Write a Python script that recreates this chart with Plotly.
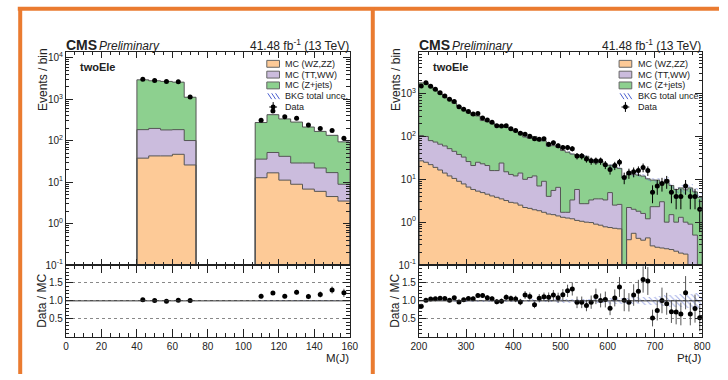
import math
import plotly.graph_objects as go

W, H = 728, 380

# ---------------- data: M(J) panel (24 bins, 0-160) ----------------
mj_range = [0.0, 160.0]
mj_nbins = 24
mj_wzzz = [0, 0, 0, 0, 0, 0, 38, 43, 43, 47, 26, 0, 0, 0, 0, 0,
           12.8, 16.8, 11.2, 8.9, 6.8, 6.0, 4.5, 3.5]
mj_ttww = [0, 0, 0, 0, 0, 0, 147, 155, 139, 138, 75, 0, 0, 0, 0, 0,
           23.2, 35.2, 30.8, 20.1, 22.2, 16, 12.5, 5.4]
mj_zjets = [0, 0, 0, 0, 0, 0, 2765, 2602, 2518, 2405, 1019, 0, 0, 0, 0, 0,
            239, 373, 294, 253, 185, 146, 118, 85]
mj_data = [0, 0, 0, 0, 0, 0, 3040, 2830, 2670, 2640, 1130, 0, 0, 0, 0, 0,
           311, 519, 380, 350, 240, 198, 176, 115]
mj_unc = [0, 0, 0, 0, 0, 0, 0.005, 0.005, 0.005, 0.005, 0.006, 0, 0, 0, 0, 0,
          0.012, 0.01, 0.012, 0.013, 0.014, 0.015, 0.016, 0.018]

# ---------------- data: Pt(J) panel (60 bins, 200-800) ----------------
pt_range = [200.0, 800.0]
pt_nbins = 60
pt_wzzz = [27, 25, 22, 19, 16.5, 14, 12, 10.5, 9, 7.8,
           6.6, 5.8, 5.3, 4.9, 4.5, 4.1, 3.8, 3.5, 3.2, 2.9,
           2.8, 2.5, 2.2, 2.1, 1.95, 1.85, 1.7, 1.55, 1.5, 1.4,
           1.3, 1.25, 1.2, 1.1, 1.05, 1.0, 0.98, 0.9, 0.85, 0.78,
           0.75, 0.72, 0.7, 0, 0.39, 0.55, 0.42, 0.38, 0.43, 0.28,
           0.26, 0.25, 0.24, 0.23, 0.21, 0.19, 0.18, 0, 0, 0]
pt_ttww = [78, 75, 58, 55, 49.5, 46, 40, 34.5, 29, 25.2,
           19.4, 15.2, 19.7, 18.1, 16.5, 11.9, 12.2, 20.5, 11.8, 10.1,
           9.2, 11.5, 7.8, 8.9, 10.05, 5.15, 7.3, 2.45, 4.0, 5.1,
           0.4, 0.45, 2.1, 4.7, 1.65, 1.7, 2.32, 2.6, 2.65, 2.52,
           4.15, 1.78, 1.9, 0, 1.81, 1.45, 1.38, 1.22, 0.77, 2.02,
           2.04, 2.75, 0.76, 1.27, 0.79, 1.11, 0.82, 0.9, 0.5, 0]
pt_zjets = [1675, 1660, 1340, 1126, 914, 760, 668, 555, 472, 387,
            334, 294, 275, 212, 201, 187, 166, 154, 147, 130,
            118, 109, 87, 79, 88, 73, 70, 56, 55.5, 49.5,
            45.3, 41.3, 35.7, 30.7, 33.8, 31.8, 24.7, 20.5, 23.2, 17.9,
            16.5, 16.9, 15.4, 10.8, 12.4, 10.9, 10.8, 10.3, 9.1, 7.3,
            7.3, 4.9, 8.8, 5.7, 4.8, 5.0, 4.7, 5.4, 4.6, 3.8]
pt_data = [1513, 1795, 1491, 1272, 1049, 877, 734, 654, 495, 433,
           385, 334, 345, 270, 242, 215, 178, 176, 178, 152,
           137, 119, 113, 101, 89, 86, 88, 66, 71, 61,
           55, 55, 52, 35, 35, 30, 27, 27, 27, 22,
           17, 21, 25, 11, 14, 15, 16, 19, 16, 5,
           7, 8, 9, 5, 4, 4, 7, 4, 4, 2]
pt_unc = [0.015, 0.015, 0.015, 0.015, 0.018, 0.018, 0.02, 0.02, 0.02, 0.022,
          0.022, 0.025, 0.025, 0.025, 0.028, 0.028, 0.03, 0.03, 0.03, 0.032,
          0.032, 0.035, 0.035, 0.038, 0.04, 0.04, 0.042, 0.045, 0.045, 0.048,
          0.05, 0.05, 0.055, 0.055, 0.06, 0.06, 0.065, 0.065, 0.07, 0.07,
          0.075, 0.08, 0.08, 0.09, 0.09, 0.1, 0.1, 0.11, 0.12, 0.12,
          0.13, 0.14, 0.15, 0.16, 0.17, 0.18, 0.19, 0.2, 0.22, 0.24]

legend_labels = ["MC (WZ,ZZ)", "MC (TT,WW)", "MC (Z+jets)", "BKG total unce.", "Data"]
log_tickvals = [0.1, 1, 10, 100, 1000, 10000]
log_ticktext = ["10<sup>-1</sup>", "10<sup>0</sup>", "10<sup>1</sup>", "10<sup>2</sup>",
                "10<sup>3</sup>", "10<sup>4</sup>"]
ratio_tickvals = [0.5, 1.0, 1.5]
ratio_ticktext = ["0.5", "1.0", "1.5"]

# ---------------- style ----------------
ORANGE = "#FDCA97"
PURPLE = "#CBBCDD"
GREEN = "#8DD08F"
OUTLINE = "#555555"
BLUE = "#4A5FD0"
TXT = "#222222"
FONT = "Liberation Sans"
FRAME = "#EA7B30"


def px(x):
    return x / W


def py(y):
    return 1 - y / H


fig = go.Figure()


def add_panel(rng, nb, wz, tt, zj, data, unc, ax):
    xm, ym, xr, yr = ax
    bw = (rng[1] - rng[0]) / nb
    edges = [rng[0] + i * bw for i in range(nb + 1)]
    centers = [e + bw / 2 for e in edges[:-1]]
    widths = [bw] * nb
    lvl1 = list(wz)
    lvl2 = [a + b for a, b in zip(wz, tt)]
    tot = [a + b for a, b in zip(lvl2, zj)]

    fig.add_trace(go.Bar(x=centers, y=wz, width=widths, marker=dict(color=ORANGE, line=dict(width=0)),
                         xaxis=xm, yaxis=ym))
    fig.add_trace(go.Bar(x=centers, y=tt, base=lvl1, width=widths,
                         marker=dict(color=PURPLE, line=dict(width=0)), xaxis=xm, yaxis=ym))
    fig.add_trace(go.Bar(x=centers, y=zj, base=lvl2, width=widths,
                         marker=dict(color=GREEN, line=dict(width=0)), xaxis=xm, yaxis=ym))

    tiny = 1e-5
    for lv in (lvl1, lvl2, tot):
        vals = [v if v > 0 else tiny for v in lv]
        xs = [edges[0]] + edges[:-1] + [edges[-1], edges[-1]]
        ys = [tiny] + vals + [vals[-1], tiny]
        fig.add_trace(go.Scatter(x=xs, y=ys, mode="lines", line=dict(color=OUTLINE, width=1, shape="hv",
                                 simplify=False), xaxis=xm, yaxis=ym))

    # uncertainty band on the stack
    bc, bb, bh = [], [], []
    for c, t, u in zip(centers, tot, unc):
        if t > 0 and u > 0:
            bc.append(c); bb.append(t * (1 - u)); bh.append(2 * t * u)
    fig.add_trace(go.Bar(x=bc, y=bh, base=bb, width=[bw] * len(bc),
                         marker=dict(color="rgba(0,0,0,0)", line=dict(width=0),
                                     pattern=dict(shape="\\", fgcolor=BLUE, bgcolor="rgba(0,0,0,0)",
                                                  size=4, solidity=0.25, fillmode="overlay")),
                         xaxis=xm, yaxis=ym))

    dx, dy, de = [], [], []
    rx, ry, re_ = [], [], []
    for c, d, t in zip(centers, data, tot):
        if d > 0:
            dx.append(c); dy.append(d); de.append(math.sqrt(d))
            if t > 0:
                rx.append(c); ry.append(d / t); re_.append(math.sqrt(d) / t)
    fig.add_trace(go.Scatter(x=dx, y=dy, mode="markers",
                             marker=dict(color="black", size=5),
                             error_y=dict(type="data", array=de, color="black", thickness=1, width=0),
                             xaxis=xm, yaxis=ym))

    # ratio band
    rc, rb, rh = [], [], []
    for c, t, u in zip(centers, tot, unc):
        if t > 0 and u > 0:
            rc.append(c); rb.append(1 - u); rh.append(2 * u)
    fig.add_trace(go.Bar(x=rc, y=rh, base=rb, width=[bw] * len(rc),
                         marker=dict(color="rgba(0,0,0,0)", line=dict(width=0),
                                     pattern=dict(shape="\\", fgcolor=BLUE, bgcolor="rgba(0,0,0,0)",
                                                  size=4, solidity=0.25, fillmode="overlay")),
                         xaxis=xr, yaxis=yr))
    fig.add_trace(go.Scatter(x=rx, y=ry, mode="markers",
                             marker=dict(color="black", size=5),
                             error_y=dict(type="data", array=re_, color="#555", thickness=1, width=0),
                             xaxis=xr, yaxis=yr))


add_panel(mj_range, mj_nbins, mj_wzzz, mj_ttww, mj_zjets, mj_data, mj_unc, ("x", "y", "x2", "y2"))
add_panel(pt_range, pt_nbins, pt_wzzz, pt_ttww, pt_zjets, pt_data, pt_unc, ("x3", "y3", "x4", "y4"))

L_dom = [59.3 / W, 350 / W]
R_dom = [420.7 / W, 710.7 / W]
main_dom = [py(269), py(52)]
ratio_dom = [py(342), py(269)]

base_axis = dict(showline=True, linecolor=TXT, linewidth=1, mirror="ticks", ticks="inside",
                 tickcolor=TXT, showgrid=False, zeroline=False,
                 tickfont=dict(family=FONT, size=10, color=TXT))


def xax(dom, rng, dtick, mdtick, labels, anchor, tl):
    d = dict(base_axis)
    d.update(domain=dom, range=rng, dtick=dtick, tick0=rng[0], ticklen=tl, showticklabels=labels,
             anchor=anchor,
             minor=dict(ticks="inside", ticklen=tl / 2, dtick=mdtick, tickcolor=TXT))
    return d


def ylog(dom, rng, anchor):
    d = dict(base_axis)
    d.update(domain=dom, type="log", range=rng, tickvals=log_tickvals, ticktext=log_ticktext,
             ticklen=7, anchor=anchor,
             minor=dict(ticks="inside", ticklen=3.5, dtick="D1", tickcolor=TXT))
    return d


def yrat(dom, anchor):
    d = dict(base_axis)
    d.update(domain=dom, range=[0, 2.0], tickvals=ratio_tickvals, ticktext=ratio_ticktext,
             ticklen=7, anchor=anchor, showgrid=True, gridcolor="#888", griddash="dot", gridwidth=1,
             minor=dict(ticks="inside", ticklen=3.5, dtick=0.1, tickcolor=TXT))
    return d


fig.update_layout(
    width=W, height=H, margin=dict(l=0, r=0, t=0, b=0),
    paper_bgcolor="white", plot_bgcolor="white",
    showlegend=False, barmode="overlay", bargap=0, hovermode=False,
    xaxis=xax(L_dom, mj_range, 20, 5, False, "y", 6),
    yaxis=ylog(main_dom, [-1, 4.14], "x"),
    xaxis2=xax(L_dom, mj_range, 20, 5, True, "y2", 8),
    yaxis2=yrat(ratio_dom, "x2"),
    xaxis3=xax(R_dom, pt_range, 100, 20, False, "y3", 6),
    yaxis3=ylog(main_dom, [-1, 3.97], "x3"),
    xaxis4=xax(R_dom, pt_range, 100, 20, True, "y4", 8),
    yaxis4=yrat(ratio_dom, "x4"),
)

shapes = []
anns = []

# orange frame lines
for (x0, y0, x1, y1) in [(10, 8, 728, 8), (12.5, 6, 12.5, 380), (373.5, 6, 373.5, 380)]:
    shapes.append(dict(type="line", xref="paper", yref="paper", x0=px(x0), y0=py(y0), x1=px(x1), y1=py(y1),
                       line=dict(color=FRAME, width=4)))

# reference line at ratio 1
for xr, yr in (("x2", "y2"), ("x4", "y4")):
    shapes.append(dict(type="line", xref=xr + " domain", yref=yr, x0=0, x1=1, y0=1, y1=1,
                       line=dict(color="#333", width=1)))


def text(x, y, s, size, anchor="left", angle=0, yanchor="middle"):
    anns.append(dict(x=px(x), y=py(y), xref="paper", yref="paper", text=s, showarrow=False,
                     xanchor=anchor, yanchor=yanchor, textangle=angle, borderpad=0,
                     font=dict(family=FONT, size=size, color=TXT)))


for L, R, xt in ((59.3, 350, "M(J)"), (420.7, 710.7, "Pt(J)")):
    text(L - 1, 45, "<b>CMS</b>", 14)
    text(L + 33, 46, "<i>Preliminary</i>", 12)
    text(R, 45, "41.48 fb<sup>-1</sup> (13 TeV)", 12, anchor="right")
    text(L + 13, 67, "<b>twoEle</b>", 11)
    text(L - 24, 80, "Events / bin", 12, anchor="center", angle=-90)
    text(L - 24, 305, "Data / MC", 12, anchor="center", angle=-90)
    text(R, 364, xt, 11.5, anchor="right")

    # legend
    bx0, bx1 = R - 85, R - 72
    rows = [64, 75, 86, 97, 108]
    for yy, col in zip(rows[:3], (ORANGE, PURPLE, GREEN)):
        shapes.append(dict(type="rect", xref="paper", yref="paper", x0=px(bx0), x1=px(bx1),
                           y0=py(yy + 3.5), y1=py(yy - 3.5), fillcolor=col,
                           line=dict(color="#666", width=1)))
    for k in range(3):
        xx = bx0 + 1 + k * 4
        shapes.append(dict(type="line", xref="paper", yref="paper", x0=px(xx), y0=py(rows[3] - 3),
                           x1=px(xx + 4), y1=py(rows[3] + 3), line=dict(color=BLUE, width=1)))
    cx = (bx0 + bx1) / 2
    cy = rows[4]
    shapes.append(dict(type="line", xref="paper", yref="paper", x0=px(cx), x1=px(cx), y0=py(cy - 5),
                       y1=py(cy + 5), line=dict(color="black", width=1)))
    shapes.append(dict(type="line", xref="paper", yref="paper", x0=px(cx - 4), x1=px(cx + 4), y0=py(cy),
                       y1=py(cy), line=dict(color="black", width=1)))
    shapes.append(dict(type="circle", xref="paper", yref="paper", x0=px(cx - 2.5), x1=px(cx + 2.5),
                       y0=py(cy - 2.5), y1=py(cy + 2.5), fillcolor="black", line=dict(color="black", width=0)))
    for yy, lab in zip(rows, legend_labels):
        text(R - 67, yy, lab, 9)

fig.update_layout(shapes=shapes, annotations=anns)
fig.write_html("out.html", config={"displayModeBar": False},
               post_script="document.body.style.margin='0';document.body.style.overflow='hidden';")
